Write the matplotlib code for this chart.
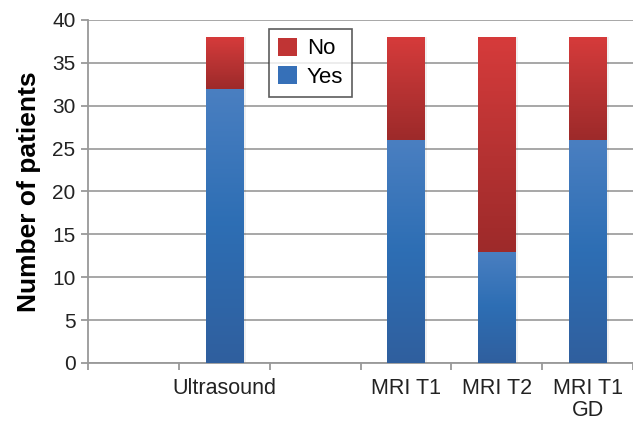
import numpy as np
import matplotlib.pyplot as plt
from matplotlib.colors import LinearSegmentedColormap
from matplotlib.patches import Patch

plt.rcParams['font.family'] = ['Liberation Sans', 'DejaVu Sans']

categories = ['', 'Ultrasound', '', 'MRI T1', 'MRI T2', 'MRI T1\nGD']
yes = [0, 32, 0, 26, 13, 26]
no = [0, 6, 0, 12, 25, 12]

blue_cmap = LinearSegmentedColormap.from_list('blue', ['#305f9e', '#2d6eb4', '#4a7fc1'])
red_cmap = LinearSegmentedColormap.from_list('red', ['#9d2a2a', '#b83333', '#d63b3b'])

fig = plt.figure(figsize=(6.33, 4.22), dpi=100)
ax = fig.add_axes([88/633, 59/422, 545/633, 343/422])

x = np.arange(len(categories))
w = 0.41


def grad_bars(xs, heights, bottoms, cmap):
    bars = ax.bar(xs, heights, w, bottom=bottoms, color='none', zorder=3)
    grad = np.linspace(0, 1, 256).reshape(-1, 1)
    for b in bars:
        if b.get_height() <= 0:
            continue
        x0, y0 = b.get_x(), b.get_y()
        im = ax.imshow(grad, cmap=cmap, origin='lower', aspect='auto',
                       extent=[x0, x0 + b.get_width(), y0, y0 + b.get_height()],
                       zorder=3)
        im.set_clip_path(b)
        # light shadow on the right
        ax.add_patch(plt.Rectangle((x0 + b.get_width(), y0), 0.03, b.get_height(),
                                   color='#000000', alpha=0.06, lw=0, zorder=2))


grad_bars(x, yes, 0, blue_cmap)
grad_bars(x, no, yes, red_cmap)

ax.set_xlim(-0.5, 5.5)
ax.set_ylim(0, 40)
ax.set_yticks(range(0, 41, 5))
ax.set_xticks(x)
ax.set_xticklabels(categories, fontsize=15.5, color='#222222', linespacing=1.05)
ax.set_xticks(np.arange(-0.5, 5.6, 1), minor=True)
ax.tick_params(axis='x', which='major', length=0, pad=11)
ax.tick_params(axis='x', which='minor', length=5, width=1.3, color='#999999')
ax.tick_params(axis='y', length=5, width=1.3, color='#999999', labelsize=15,
               labelcolor='#222222', pad=4)

ax.grid(axis='y', color='#a0a0a0', lw=1.3, zorder=0)
ax.set_axisbelow(True)
for s in ['top', 'right']:
    ax.spines[s].set_visible(False)
for s in ['left', 'bottom']:
    ax.spines[s].set_color('#999999')
    ax.spines[s].set_linewidth(1.3)

ax.set_ylabel('Number of patients', fontsize=19, fontweight='bold', labelpad=8)

handles = [Patch(facecolor='#c03434', edgecolor='none', label='No'),
           Patch(facecolor='#3670b8', edgecolor='none', label='Yes')]
leg = ax.legend(handles=handles, loc='upper left', bbox_to_anchor=(181/545, 1 - 9/343),
                fontsize=16, frameon=True, fancybox=False, handlelength=0.85,
                handleheight=0.85, handletextpad=0.45, borderpad=0.4, labelspacing=0.3,
                borderaxespad=0)
leg.get_frame().set_edgecolor('#333333')
leg.get_frame().set_linewidth(1.2)

fig.savefig('out.png', dpi=100)
